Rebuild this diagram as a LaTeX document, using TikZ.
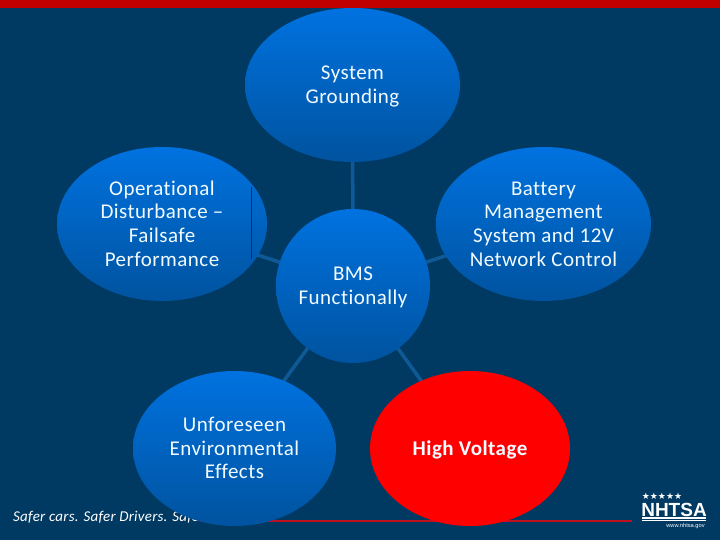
\documentclass[tikz,border=0pt]{standalone}
\usepackage{fontspec}
\setmainfont{Carlito}[LetterSpace=2.2,Ligatures=NoCommon]
\newfontfamily\footfont{Carlito}[LetterSpace=1.7,Ligatures=NoCommon]
\newfontfamily\dejavu{DejaVu Sans}
\newfontfamily\libsans{Liberation Sans}
\usetikzlibrary{shapes.geometric,backgrounds}
\definecolor{bgblue}{HTML}{003A63}
\definecolor{barred}{HTML}{C00000}
\definecolor{topblue}{HTML}{0072E0}
\definecolor{botblue}{HTML}{00539F}
\definecolor{linkblue}{HTML}{0F5A96}
\definecolor{textwhite}{HTML}{F2FBFF}
\definecolor{footred}{HTML}{C01020}
\newcommand\lowtext[1]{\vbox{\kern4pt\hbox{\begin{tabular}{@{}c@{}}#1\end{tabular}}}}
\tikzset{
  x=1pt,y=-1pt,
  blob/.style={ellipse,inner sep=0pt,outer sep=0pt,text=textwhite,
    top color=topblue,bottom color=botblue,
    font=\fontsize{21}{23.7}\selectfont},
  redblob/.style={ellipse,inner sep=0pt,outer sep=0pt,text=textwhite,
    fill=red,font=\fontsize{21}{23.7}\selectfont\bfseries},
  link/.style={draw=linkblue,line width=3.5pt,shorten <=-1pt,shorten >=-1pt},
}
\begin{document}
\begin{tikzpicture}
\useasboundingbox (0,0) rectangle (720,540);
\node[blob,minimum width=215pt,minimum height=154pt] (ground) at (352.5,85) {\lowtext{System\\Grounding}};
\node[blob,minimum width=210pt,minimum height=154pt] (oper) at (162,224) {\lowtext{Operational\\Disturbance –\\Failsafe\\Performance}};
\node[blob,minimum width=215pt,minimum height=154pt] (batt) at (543.5,224) {\lowtext{Battery\\Management\\System and 12V\\Network Control}};
\node[blob,minimum width=154pt,minimum height=154pt] (bms) at (353,286) {\lowtext{BMS\\Functionally}};
\node[blob,minimum width=203pt,minimum height=155pt] (unf) at (234.5,448.5) {\lowtext{Unforeseen\\Environmental\\Effects}};
\node[redblob,minimum width=200pt,minimum height=155pt] (hv) at (470,448.5) {\lowtext{High Voltage}};
\coordinate (lnA) at (251.7,187);
\coordinate (lnB) at (251.7,259);
\draw[color=botblue!60!black,line width=0.9pt] (lnA) -- (lnB);
\begin{pgfonlayer}{background}
\fill[bgblue] (0,0) rectangle (720,540);
\fill[barred] (0,0) rectangle (720,8.5);
\coordinate (rlA) at (200,521);
\coordinate (rlB) at (632,521);
\draw[draw=footred,line width=2pt] (rlA) -- (rlB);
\node[anchor=west,inner sep=0pt,text=white,font=\fontsize{15}{16}\footfont\itshape] (foot) at (13,517) {Safer cars. Safer Drivers. Safe};
\draw[link] (bms) -- (ground);
\draw[link] (bms) -- (oper);
\draw[link] (bms) -- (batt);
\draw[link] (bms) -- (unf);
\draw[link] (bms) -- (hv);
\end{pgfonlayer}
% logo
\node[anchor=center,inner sep=0pt,text=white,font=\fontsize{9}{9}\dejavu] (stars) at (662,496) {★★★★★};
\node[anchor=center,inner sep=0pt,text=white,font=\fontsize{19}{19}\libsans\bfseries] (nhtsa) at (674,510) {NHTSA};
\fill[white] (642,517) rectangle (706,518.5);
\fill[white] (642,519.5) rectangle (706,521);
\node[anchor=center,inner sep=0pt,text=white,font=\fontsize{5.7}{5.7}\libsans] (www) at (685.5,526.5) {www.nhtsa.gov};
\end{tikzpicture}
\end{document}
